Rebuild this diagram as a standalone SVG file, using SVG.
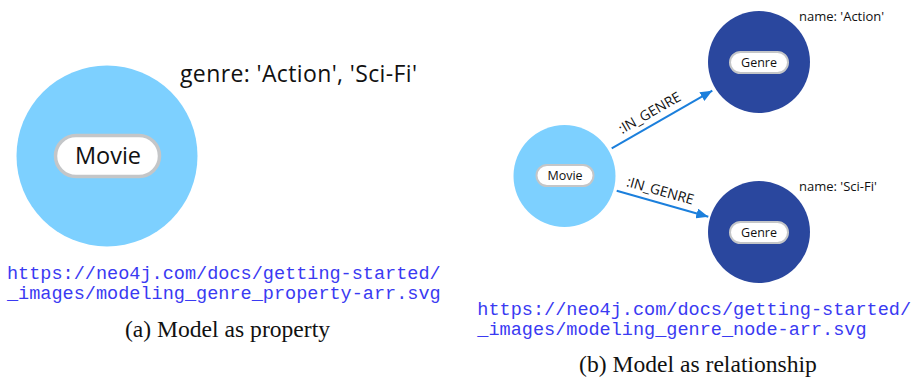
<svg xmlns="http://www.w3.org/2000/svg" width="914" height="382" viewBox="0 0 914 382">
  <style>
    .movie { fill: #7dd0ff; }
    .genre { fill: #2a479e; }
    .pill { fill: #ffffff; stroke: #c4c6c8; }
    .lbl { font-family: "Open Sans", "Liberation Sans", sans-serif; fill: #111111; }
    .url { font-family: "Liberation Mono", "DejaVu Sans Mono", monospace; font-size: 18.55px; fill: #3a3af2; }
    .cap { font-family: "Liberation Serif", "Times New Roman", serif; font-size: 23.6px; fill: #111111; text-anchor: middle; }
    .rel { stroke: #1b7fdc; stroke-width: 2; fill: none; }
  </style>
  <defs>
    <marker id="arrow" viewBox="0 0 12 10" refX="12" refY="5" markerWidth="12" markerHeight="10" markerUnits="userSpaceOnUse" orient="auto">
      <path d="M0,0 L12,5 L0,10 Z" fill="#1b7fdc"/>
    </marker>
  </defs>

  <rect width="914" height="382" fill="#ffffff"/>

  <!-- (a) genre stored as a property -->
  <g id="movie-property">
    <circle class="movie" cx="107" cy="156" r="90.5"/>
    <rect class="pill" x="55.5" y="135.5" width="104" height="41" rx="20.5" stroke-width="3.5"/>
    <text class="lbl" x="108" y="163.5" font-size="23.5" text-anchor="middle">Movie</text>
    <text class="lbl" x="180" y="81.5" font-size="23" textLength="237" lengthAdjust="spacing">genre: 'Action', 'Sci-Fi'</text>
  </g>
  <g id="caption-a">
    <text class="url" x="7" y="278.5">https://neo4j.com/docs/getting-started/</text>
    <text class="url" x="7" y="298.5">_images/modeling_genre_property-arr.svg</text>
    <text class="cap" x="227.5" y="336.5">(a) Model as property</text>
  </g>

  <!-- (b) genre stored as separate nodes -->
  <g id="connectors">
    <line class="rel" x1="611.7" y1="148.3" x2="712.3" y2="90.7" marker-end="url(#arrow)"/>
    <line class="rel" x1="616.7" y1="190.7" x2="708.3" y2="216.7" marker-end="url(#arrow)"/>
    <text class="lbl" font-size="14" text-anchor="middle" transform="translate(652,117) rotate(-29.8)">:IN_GENRE</text>
    <text class="lbl" font-size="14" text-anchor="middle" transform="translate(659,195.3) rotate(15.8)">:IN_GENRE</text>
  </g>
  <g id="movie">
    <circle class="movie" cx="564.5" cy="176" r="51"/>
    <rect class="pill" x="536.5" y="165" width="57" height="21" rx="10.5" stroke-width="2"/>
    <text class="lbl" x="565" y="180" font-size="12.5" text-anchor="middle">Movie</text>
  </g>
  <g id="genre-action">
    <circle class="genre" cx="759" cy="62" r="51"/>
    <rect class="pill" x="730" y="52" width="58" height="21" rx="10.5" stroke-width="2"/>
    <text class="lbl" x="759" y="67" font-size="12.5" text-anchor="middle">Genre</text>
    <text class="lbl" x="799" y="21" font-size="13">name: 'Action'</text>
  </g>
  <g id="genre-scifi">
    <circle class="genre" cx="759" cy="232" r="51"/>
    <rect class="pill" x="730" y="222" width="58" height="21" rx="10.5" stroke-width="2"/>
    <text class="lbl" x="759" y="237" font-size="12.5" text-anchor="middle">Genre</text>
    <text class="lbl" x="799" y="190.5" font-size="13">name: 'Sci-Fi'</text>
  </g>
  <g id="caption-b">
    <text class="url" x="477.3" y="315">https://neo4j.com/docs/getting-started/</text>
    <text class="url" x="477.3" y="335">_images/modeling_genre_node-arr.svg</text>
    <text class="cap" x="698" y="371.5">(b) Model as relationship</text>
  </g>
</svg>
